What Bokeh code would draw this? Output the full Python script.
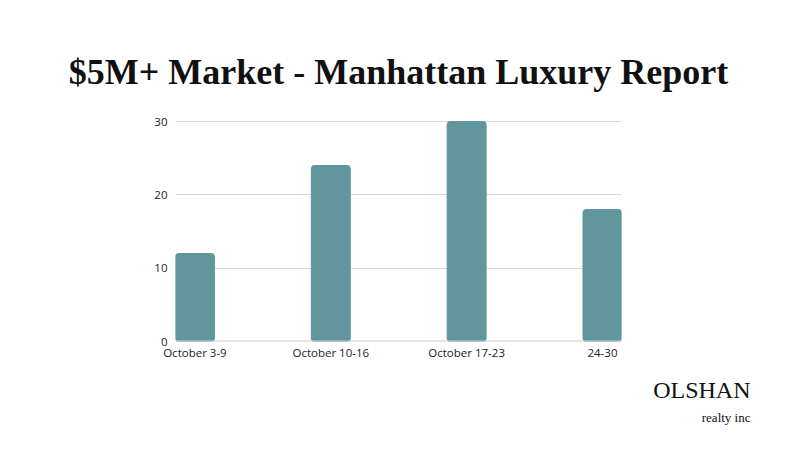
from bokeh.plotting import figure
from bokeh.models import Range1d, FixedTicker, Span, Title
from bokeh.embed import file_html
from bokeh.resources import INLINE

categories = ["October 3-9", "October 10-16", "October 17-23", "24-30"]
values = [12, 24, 30, 18]
y_ticks = [0, 10, 20, 30]

W, H = 771, 433
FL, FR, FT, FB = 175, 621, 118, 341  # frame edges in px

xs = list(range(len(categories)))
x0, x1 = -0.143, 3.14
y0, y1 = 0, 30 * (FB - FT) / (FB - 121)

p = figure(width=W, height=H, output_backend="svg", toolbar_location=None,
           x_range=Range1d(x0, x1), y_range=Range1d(y0, y1),
           min_border_left=FL, min_border_right=W - FR,
           min_border_top=FT, min_border_bottom=H - FB)
p.outline_line_color = None
p.background_fill_color = "white"
p.border_fill_color = "white"

p.vbar(x=xs, top=values, width=0.287, color="#62969E", border_radius=3)

p.xaxis.ticker = FixedTicker(ticks=xs)
p.xaxis.major_label_overrides = {i: c for i, c in enumerate(categories)}
p.yaxis.ticker = FixedTicker(ticks=y_ticks)
for ax in (p.xaxis[0], p.yaxis[0]):
    ax.axis_line_color = None
    ax.major_tick_line_color = None
    ax.minor_tick_line_color = None
    ax.major_tick_out = 0
    ax.major_tick_in = 0
    ax.major_label_text_font = "Open Sans"
    ax.major_label_text_font_size = "11.5px"
    ax.major_label_text_color = "#222222"
p.xaxis.major_label_standoff = 3
p.yaxis.major_label_standoff = 8
p.xgrid.grid_line_color = None
p.ygrid.ticker = FixedTicker(ticks=[10, 20, 30])
p.ygrid.grid_line_color = "#d9d9d9"
p.ygrid.grid_line_width = 1

base = Span(location=0, dimension="width", line_color="#cfcfcf", line_width=2)
p.add_layout(base)

p.title.text = "$5M+ Market - Manhattan Luxury Report"
p.title.text_font = "Liberation Serif"
p.title.text_font_size = "36px"
p.title.text_font_style = "bold"
p.title.text_color = "#111111"
p.title.align = "center"
p.title.standoff = 53

logo1 = Title(text="OLSHAN", align="right", offset=FR - 750, standoff=25,
              text_font="Liberation Serif", text_font_size="24px",
              text_font_style="normal", text_color="#111111")
logo2 = Title(text="realty inc", align="right", offset=FR - 750, standoff=-19,
              text_font="Liberation Serif", text_font_size="13px",
              text_font_style="normal", text_color="#111111")
p.add_layout(logo1, "below")
p.add_layout(logo2, "below")

open("out.html", "w").write(file_html(p, INLINE))
